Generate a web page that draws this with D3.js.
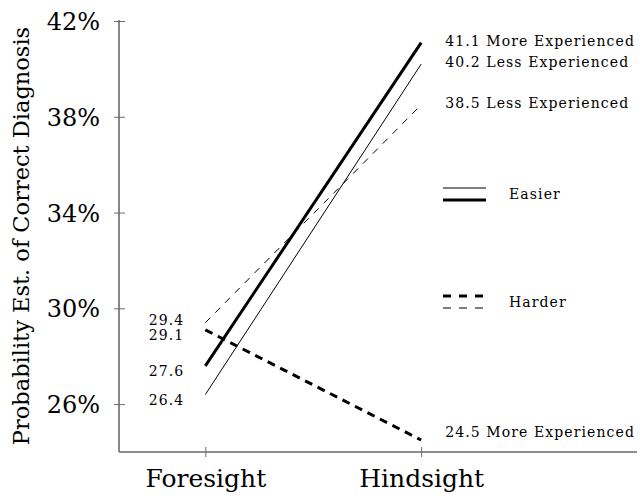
<!DOCTYPE html>
<html>
<head>
<meta charset="utf-8">
<script src="https://cdn.jsdelivr.net/npm/d3@7"></script>
<style>
  html, body { margin: 0; padding: 0; background: #fff; }
  svg { display: block; font-family: "DejaVu Serif", "Liberation Serif", serif; }
</style>
</head>
<body>
<svg id="chart" width="644" height="500"></svg>
<script>
// Judged probability of a correct diagnosis, foresight vs hindsight
const periods = ["Foresight", "Hindsight"];
const seriesNames = ["Easier, More Experienced", "Easier, Less Experienced",
                     "Harder, Less Experienced", "Harder, More Experienced"];
const easierMore = [27.6, 41.1];
const easierLess = [26.4, 40.2];
const harderLess = [29.4, 38.5];
const harderMore = [29.1, 24.5];
const endLabels = ["More Experienced", "Less Experienced", "Less Experienced", "More Experienced"];
const yTicks = [26, 30, 34, 38, 42];
const legendGroups = ["Easier", "Harder"];

const series = [
  { name: seriesNames[0], values: easierMore, label: endLabels[0], width: 3, dash: null },
  { name: seriesNames[1], values: easierLess, label: endLabels[1], width: 1, dash: null },
  { name: seriesNames[2], values: harderLess, label: endLabels[2], width: 1, dash: "7,7" },
  { name: seriesNames[3], values: harderMore, label: endLabels[3], width: 3, dash: "8,6" }
];

const svg = d3.select("#chart");
const axisLeftX = 119, axisBottomY = 452;

// x: Foresight at 1, Hindsight at 2
const x = d3.scaleLinear().domain([0.6, 3.0]).range([119, 637]);
const y = d3.scaleLinear().domain([24, 42]).range([452, 21]);
const axisColor = "#6a6a6a";
const smallFont = 14, smallSpacing = "1.1px";

// y axis with ticks crossing the line
const yAxis = svg.append("g").attr("transform", `translate(${axisLeftX},0)`)
  .call(d3.axisLeft(y).tickValues(yTicks).tickSize(5).tickPadding(14)
        .tickFormat(d => d + "%"));
yAxis.select(".domain").remove();
yAxis.append("line").attr("x1", 0).attr("x2", 0).attr("y1", y(42) - 1).attr("y2", axisBottomY)
  .attr("stroke", axisColor).attr("stroke-width", 1.6);
yAxis.selectAll(".tick line").attr("x1", -5).attr("x2", 6).attr("stroke", axisColor).attr("stroke-width", 1);
yAxis.selectAll(".tick text").attr("font-family", "DejaVu Serif").attr("font-size", 24)
  .attr("fill", "#000").attr("dy", "0.36em");

// x axis
const xAxis = svg.append("g").attr("transform", `translate(0,${axisBottomY})`)
  .call(d3.axisBottom(x).tickValues([1, 2]).tickSize(5).tickPadding(12)
        .tickFormat(d => periods[d - 1]));
xAxis.select(".domain").remove();
xAxis.append("line").attr("x1", axisLeftX).attr("x2", 637).attr("y1", 0).attr("y2", 0)
  .attr("stroke", axisColor).attr("stroke-width", 1.6);
xAxis.selectAll(".tick line").attr("y1", -5).attr("y2", 5).attr("stroke", axisColor).attr("stroke-width", 1);
xAxis.selectAll(".tick text").attr("font-family", "DejaVu Serif").attr("font-size", 25)
  .attr("fill", "#000");

// y axis title
svg.append("text")
  .attr("transform", `translate(29,${(20 + 452) / 2}) rotate(-90)`)
  .attr("text-anchor", "middle")
  .attr("font-size", 22.5)
  .text("Probability Est. of Correct Diagnosis");

// lines
const line = d3.line().x((d, i) => x(i + 1)).y(d => y(d));
svg.append("g").selectAll("path").data(series).join("path")
  .attr("d", d => line(d.values))
  .attr("fill", "none")
  .attr("stroke", "#000")
  .attr("stroke-width", d => d.width)
  .attr("stroke-dasharray", d => d.dash);

// value labels at Foresight (right-aligned, spread apart where they would collide)
const left = series.map(s => ({ v: s.values[0], y: y(s.values[0]) + 10 }))
  .sort((a, b) => b.y - a.y);
for (let i = 1; i < left.length; i++) {
  if (left[i - 1].y - left[i].y < 15) left[i].y = left[i - 1].y - 15;
}
svg.append("g").selectAll("text").data(left).join("text")
  .attr("x", x(1) - 21).attr("y", d => d.y)
  .attr("text-anchor", "end").attr("font-size", smallFont)
  .attr("letter-spacing", smallSpacing)
  .text(d => d.v.toFixed(1));

// value labels at Hindsight
const right = series.map(s => ({ v: s.values[1], label: s.label, y: Math.min(y(s.values[1]) + 3, axisBottomY - 15) }))
  .sort((a, b) => a.y - b.y);
for (let i = 1; i < right.length; i++) {
  if (right[i].y - right[i - 1].y < 18) right[i].y = right[i - 1].y + 18;
}
svg.append("g").selectAll("text").data(right).join("text")
  .attr("x", x(2) + 24).attr("y", d => d.y)
  .attr("font-size", smallFont)
  .attr("letter-spacing", smallSpacing)
  .text(d => d.v.toFixed(1) + " " + d.label);

// legend
const legend = svg.append("g");
const legendY = [194, 302];
const legendItems = [
  { group: legendGroups[0], lines: [series[1], series[0]] },
  { group: legendGroups[1], lines: [series[3], series[2]] }
];
legendItems.forEach((item, gi) => {
  const g = legend.append("g").attr("transform", `translate(443,${legendY[gi]})`);
  g.selectAll("line").data(item.lines).join("line")
    .attr("x1", 0).attr("x2", 43)
    .attr("y1", (d, i) => i === 0 ? -6 : 6).attr("y2", (d, i) => i === 0 ? -6 : 6)
    .attr("stroke", "#000")
    .attr("stroke-width", d => d.width)
    .attr("stroke-dasharray", d => d.dash ? "8,8" : null);
  g.append("text").attr("x", 66).attr("y", 5).attr("font-size", smallFont)
    .attr("letter-spacing", smallSpacing).text(item.group);
});
</script>
</body>
</html>
